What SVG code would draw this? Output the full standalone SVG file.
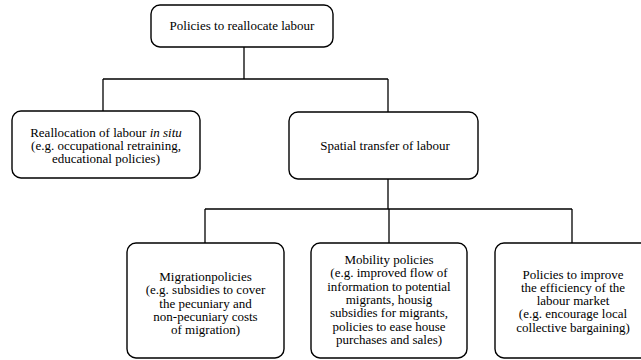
<svg xmlns="http://www.w3.org/2000/svg" width="641" height="360" viewBox="0 0 641 360">
<style>
.box{fill:#fff;stroke:#000;stroke-width:1.4}
.lines line{stroke:#000;stroke-width:1.3}
</style>
<rect width="641" height="360" fill="#fff"/>
<g id="connectors" class="lines">
<line x1="244" y1="47" x2="244" y2="79"/>
<line x1="103" y1="79" x2="388" y2="79"/>
<line x1="103" y1="79" x2="103" y2="111"/>
<line x1="388" y1="79" x2="388" y2="112"/>
<line x1="388" y1="179" x2="388" y2="209"/>
<line x1="205" y1="209" x2="572" y2="209"/>
<line x1="205" y1="209" x2="205" y2="243"/>
<line x1="389" y1="209" x2="389" y2="243"/>
<line x1="572" y1="209" x2="572" y2="243"/>
</g>
<g id="top">
<rect class="box" x="151" y="5" width="182" height="42" rx="9"/>
<text x="242" y="30" font-family="Liberation Serif" font-size="13" text-anchor="middle">Policies to reallocate labour</text>
</g>
<g id="insitu" font-family="Liberation Serif" font-size="13" text-anchor="middle">
<rect class="box" x="12" y="111" width="188" height="67" rx="9"/>
<text x="106" y="137" font-family="Liberation Serif">Reallocation of labour <tspan font-style="italic">in situ</tspan></text>
<text x="106" y="150" font-family="Liberation Serif">(e.g. occupational retraining,</text>
<text x="106" y="163" font-family="Liberation Serif">educational policies)</text>
</g>
<g id="spatial" font-family="Liberation Serif" font-size="13" text-anchor="middle">
<rect class="box" x="289" y="112" width="189" height="67" rx="9"/>
<text x="385" y="150" font-family="Liberation Serif">Spatial transfer of labour</text>
</g>
<g id="migration" font-family="Liberation Serif" font-size="13" text-anchor="middle">
<rect class="box" x="127" y="243" width="157" height="115" rx="9"/>
<text x="205.5" y="281" font-family="Liberation Serif">Migrationpolicies</text>
<text x="205.5" y="294.3" font-family="Liberation Serif">(e.g. subsidies to cover</text>
<text x="205.5" y="307.6" font-family="Liberation Serif">the pecuniary and</text>
<text x="205.5" y="321" font-family="Liberation Serif">non-pecuniary costs</text>
<text x="205.5" y="334.3" font-family="Liberation Serif">of migration)</text>
</g>
<g id="mobility" font-family="Liberation Serif" font-size="13" text-anchor="middle">
<rect class="box" x="311" y="243" width="156" height="115" rx="9"/>
<text x="389" y="264" font-family="Liberation Serif">Mobility policies</text>
<text x="389" y="277.3" font-family="Liberation Serif">(e.g. improved flow of</text>
<text x="389" y="290.6" font-family="Liberation Serif">information to potential</text>
<text x="389" y="304" font-family="Liberation Serif">migrants, housig</text>
<text x="389" y="317.3" font-family="Liberation Serif">subsidies for migrants,</text>
<text x="389" y="330.6" font-family="Liberation Serif">policies to ease house</text>
<text x="389" y="344" font-family="Liberation Serif">purchases and sales)</text>
</g>
<g id="efficiency" font-family="Liberation Serif" font-size="13" text-anchor="middle">
<rect class="box" x="495" y="243" width="156" height="115" rx="9"/>
<text x="573" y="278.5" font-family="Liberation Serif">Policies to improve</text>
<text x="573" y="291.8" font-family="Liberation Serif">the efficiency of the</text>
<text x="573" y="305.1" font-family="Liberation Serif">labour market</text>
<text x="573" y="318.4" font-family="Liberation Serif">(e.g. encourage local</text>
<text x="573" y="331.7" font-family="Liberation Serif">collective bargaining)</text>
</g>
</svg>
